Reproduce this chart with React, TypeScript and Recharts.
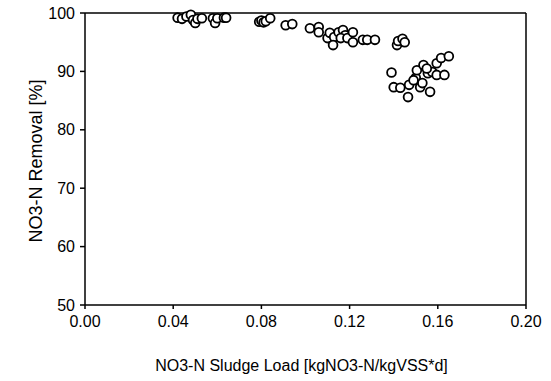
import React from 'react';
import { ScatterChart, Scatter, XAxis, YAxis, ReferenceLine } from 'recharts';

// sludge load [kgNO3-N/kgVSS*d]
const loads = [
  0.042, 0.044, 0.046, 0.048, 0.049, 0.05, 0.051, 0.053, 0.058, 0.059, 0.06, 0.063, 0.064,
  0.079, 0.08, 0.081, 0.082, 0.084, 0.091, 0.094, 0.102, 0.106, 0.106,
  0.11, 0.111, 0.113, 0.1125, 0.115, 0.117, 0.118, 0.116, 0.119, 0.1215, 0.1215,
  0.126, 0.128, 0.1315, 0.1415, 0.142, 0.144, 0.145,
  0.139, 0.14, 0.143, 0.1465, 0.147, 0.15, 0.1505, 0.152, 0.153, 0.1535, 0.1555,
  0.1565, 0.1575, 0.1595, 0.1595, 0.163, 0.1615, 0.165, 0.149, 0.155,
];

// removal [%]
const removal = [
  99.2, 99.0, 99.4, 99.7, 98.8, 98.3, 99.0, 99.1, 99.1, 98.3, 99.1, 99.2, 99.2,
  98.5, 98.7, 98.4, 98.6, 99.1, 97.9, 98.1, 97.4, 97.6, 96.7,
  95.7, 96.6, 95.9, 94.5, 96.7, 97.1, 96.2, 95.7, 95.7, 96.7, 95.0,
  95.4, 95.4, 95.4, 94.5, 95.2, 95.6, 95.0,
  89.8, 87.3, 87.2, 85.6, 87.7, 88.9, 90.2, 87.3, 88.0, 91.1, 89.7,
  86.5, 89.9, 89.4, 91.4, 89.4, 92.3, 92.6, 88.5, 90.5,
];

const xTicks = [0, 0.04, 0.08, 0.12, 0.16, 0.2];
const yTicks = [50, 60, 70, 80, 90, 100];

const data = loads.map((x, i) => ({ x, y: removal[i] }));

const font = { fontFamily: '"Liberation Sans", Arial, sans-serif', fontSize: 16, fill: '#000' };

const Ring = (props: any) => {
  const { cx, cy } = props;
  return <circle cx={cx} cy={cy} r={4.4} fill="#fff" stroke="#000" strokeWidth={1.8} />;
};

// rotated y title
const YTitle = () => {
  const cx = 36;
  const cy = 161;
  return (
    <text
      x={cx}
      y={cy}
      transform={`rotate(-90, ${cx}, ${cy})`}
      textAnchor="middle"
      dominantBaseline="central"
      style={{ ...font, fontSize: 18 }}
    >
      NO3-N Removal [%]
    </text>
  );
};

export default function App() {
  return (
    <div style={{ position: 'absolute', left: 0, top: 0, background: '#fff' }}>
      <ScatterChart width={551} height={381} margin={{ top: 13, right: 25, bottom: 0, left: 0 }}>
        <XAxis
          type="number"
          dataKey="x"
          domain={[0, 0.2]}
          ticks={xTicks}
          tickFormatter={(v: number) => v.toFixed(2)}
          stroke="#000"
          strokeWidth={1.5}
          tickSize={4}
          tickMargin={7}
          tick={font}
          height={76}
          label={{ value: 'NO3-N Sludge Load [kgNO3-N/kgVSS*d]', position: 'insideBottom', offset: 10, dx: -4, style: font }}
        />
        <YAxis
          type="number"
          dataKey="y"
          domain={[50, 100]}
          ticks={yTicks}
          stroke="#000"
          strokeWidth={1.5}
          tickSize={5}
          tickMargin={5}
          tick={font}
          width={85}
          label={<YTitle />}
        />
        <ReferenceLine y={100} stroke="#000" strokeWidth={1.5} />
        <ReferenceLine x={0.2} stroke="#000" strokeWidth={1.5} />
        <Scatter data={data} shape={<Ring />} isAnimationActive={false} />
      </ScatterChart>
    </div>
  );
}
